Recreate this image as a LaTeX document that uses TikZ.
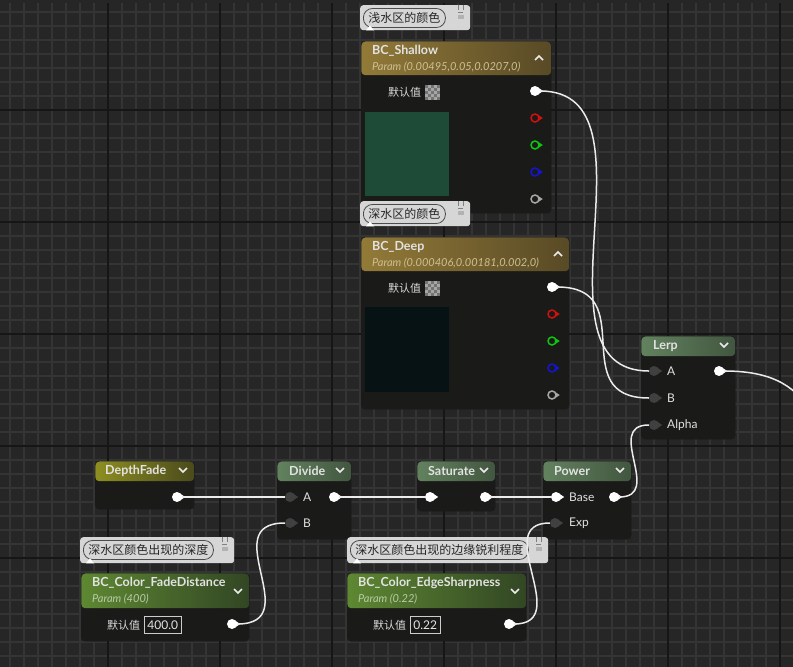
\documentclass[tikz,border=0pt]{standalone}
\usepackage{fontspec}
\setmainfont{Lato}
\newfontfamily\cjk{Noto Sans CJK SC}
\usepackage{tikz}
\usetikzlibrary{calc}
\definecolor{canvasbg}{RGB}{38,38,38}
\definecolor{gridminor}{RGB}{52,52,52}
\definecolor{gridmajor}{RGB}{22,22,22}
\definecolor{nodebody}{RGB}{26,27,25}
\definecolor{goldL}{RGB}{146,122,56}
\definecolor{goldR}{RGB}{88,74,38}
\definecolor{paramL}{RGB}{94,136,50}
\definecolor{paramR}{RGB}{50,70,36}
\definecolor{mathL}{RGB}{98,130,94}
\definecolor{mathR}{RGB}{66,86,64}
\definecolor{fadeL}{RGB}{142,142,34}
\definecolor{fadeR}{RGB}{74,74,28}
\definecolor{titlegray}{RGB}{226,226,226}
\definecolor{paramgold}{RGB}{206,192,146}
\definecolor{paramgreen}{RGB}{184,204,168}
\definecolor{pinoff}{RGB}{64,64,64}
\definecolor{bubble}{RGB}{214,214,214}
\definecolor{shallowgreen}{RGB}{30,74,56}
\definecolor{deepteal}{RGB}{6,18,20}
\definecolor{chanred}{RGB}{210,16,16}
\definecolor{changreen}{RGB}{16,196,16}
\definecolor{chanblue}{RGB}{20,20,214}
\definecolor{changray}{RGB}{168,168,168}
\tikzset{
  uenode/.style n args={3}{
    draw=black!90,
    fill=nodebody,
    rounded corners=4pt,
    inner sep=0pt,
    anchor=north west,
    path picture={\shade[left color=#2,right color=#3]
      (path picture bounding box.north west) rectangle
      ([yshift=-#1]path picture bounding box.north east);}
  },
  nodetitle/.style={anchor=west,inner sep=0pt,text=titlegray,font=\bfseries\fontsize{12.5pt}{14pt}\selectfont},
  paramtext/.style={anchor=west,inner sep=0pt,font=\itshape\fontsize{11pt}{12pt}\selectfont},
  pinlabel/.style={anchor=west,inner sep=0pt,text=white!88!black,font=\fontsize{12pt}{13pt}\selectfont},
  cjklabel/.style={anchor=west,inner sep=0pt,text=white!85!black,font=\cjk\fontsize{11pt}{13pt}\selectfont},
  valuebox/.style={anchor=west,draw=white!80!black,line width=0.8pt,text=white!90!black,
    inner xsep=3pt,minimum height=17pt,font=\fontsize{12pt}{13pt}\selectfont},
  outpin/.style={circle,fill=white,minimum size=10pt,inner sep=0pt},
  inpin/.style={circle,fill=pinoff,minimum size=10pt,inner sep=0pt},
  chanpin/.style={circle,draw=#1,line width=1.5pt,fill=nodebody,minimum size=8pt,inner sep=0pt},
  wire/.style={draw=white!92!black,line width=1.5pt},
  caret/.style={draw=white!92!black,line width=1.5pt},
  bubblebox/.style={fill=bubble,rounded corners=3pt,anchor=north west,inner sep=0pt,minimum height=25pt},
  pill/.style={anchor=west,draw=black!70,line width=0.8pt,rounded corners=9pt,text=black!85,
    inner xsep=5pt,inner ysep=1pt,minimum height=19pt,font=\cjk\fontsize{12pt}{14pt}\selectfont},
}

\begin{document}
\begin{tikzpicture}[x=1pt,y=-1pt]
  \useasboundingbox (0,0) rectangle (793,667);
  \clip (0,0) rectangle (793,667);

  % Canvas grid
  \fill[canvasbg] (0,0) rectangle (793,667);
  \foreach \x in {10,24,...,794} \draw[gridminor,line width=2pt] (\x,0) -- (\x,667);
  \foreach \y in {12,26,...,668} \draw[gridminor,line width=2pt] (0,\y) -- (793,\y);
  \foreach \x in {108,220,...,780} \draw[gridmajor,line width=2.5pt] (\x,0) -- (\x,667);
  \foreach \y in {110,222,...,670} \draw[gridmajor,line width=2.5pt] (0,\y) -- (793,\y);
  \fill[black!85] (0,0) rectangle (793,3);

  % Parameter nodes
  \node[uenode={34pt}{goldL}{goldR},minimum width=190pt,minimum height=172pt] (shallow) at (361,41) {};
  \node[nodetitle] (shallowT) at (372,51) {BC\_Shallow};
  \node[paramtext,text=paramgold] (shallowP) at (372,67) {Param (0.00495,0.05,0.0207,0)};
  \node[uenode={34pt}{goldL}{goldR},minimum width=208pt,minimum height=172pt] (deep) at (361,237) {};
  \node[nodetitle] (deepT) at (372,247) {BC\_Deep};
  \node[paramtext,text=paramgold] (deepP) at (372,263) {Param (0.000406,0.00181,0.002,0)};
  \node[uenode={35pt}{paramL}{paramR},minimum width=168pt,minimum height=68pt] (fade) at (81,573) {};
  \node[nodetitle] (fadeT) at (92,583) {BC\_Color\_FadeDistance};
  \node[paramtext,text=paramgreen] (fadeP) at (92,599) {Param (400)};
  \node[uenode={35pt}{paramL}{paramR},minimum width=179pt,minimum height=68pt] (edge) at (347,573) {};
  \node[nodetitle] (edgeT) at (358,583) {BC\_Color\_EdgeSharpness};
  \node[paramtext,text=paramgreen] (edgeP) at (358,599) {Param (0.22)};

  % Math nodes
  \node[uenode={20pt}{mathL}{mathR},minimum width=94pt,minimum height=103pt] (lerp) at (641,336) {};
  \node[nodetitle] (lerpT) at (653,346) {Lerp};
  \node[uenode={20pt}{fadeL}{fadeR},minimum width=99pt,minimum height=48pt] (depth) at (95,461) {};
  \node[nodetitle] (depthT) at (105,471) {DepthFade};
  \node[uenode={20pt}{mathL}{mathR},minimum width=74pt,minimum height=78pt] (divide) at (277,461) {};
  \node[nodetitle] (divideT) at (289,471) {Divide};
  \node[uenode={20pt}{mathL}{mathR},minimum width=78pt,minimum height=50pt] (sat) at (417,461) {};
  \node[nodetitle] (satT) at (428,471) {Saturate};
  \node[uenode={20pt}{mathL}{mathR},minimum width=88pt,minimum height=78pt] (power) at (543,461) {};
  \node[nodetitle] (powerT) at (554,471) {Power};

  % Comment bubbles
  \node[bubblebox,minimum width=110pt] (shallowC) at (360,5) {};
  \node[pill] (shallowCT) at (363,18) {浅水区的颜色};
  \node[bubblebox,minimum width=110pt] (deepC) at (360,201) {};
  \node[pill] (deepCT) at (363,214) {深水区的颜色};
  \node[bubblebox,minimum width=154pt,minimum height=26pt] (fadeC) at (80,537) {};
  \node[pill] (fadeCT) at (83,550) {深水区颜色出现的深度};
  \node[bubblebox,minimum width=201pt,minimum height=26pt] (edgeC) at (347,537) {};
  \node[pill] (edgeCT) at (350,550) {深水区颜色出现的边缘锐利程度};
  \foreach \c in {shallowC,deepC,fadeC,edgeC}{
    \draw[black!50,line width=0.9pt] ([xshift=-12pt,yshift=-5pt]\c.north east) -- ++(0,-5)
      ([xshift=-12pt,yshift=-7.5pt]\c.north east) -- ++(5,0)
      ([xshift=-7pt,yshift=-5pt]\c.north east) -- ++(0,-5);
    \fill[black!30] ([xshift=-12pt,yshift=-14pt]\c.north east) rectangle ++(6,-4);
    \fill[white] ([xshift=6pt]\c.south west) -- ++(8,0) -- ++(-4,-5) -- cycle;
  }

  % Collapse carets
  \foreach \x/\y in {539/58,558/254}
    \draw[caret] (\x-4,\y+2) -- (\x,\y-2) -- (\x+4,\y+2);
  \foreach \x/\y in {724/345,183/470,340/470,484/470,620/470,238/591,515/591}
    \draw[caret] (\x-4,\y-2) -- (\x,\y+2) -- (\x+4,\y-2);

  % Default values and swatches
  \node[cjklabel] (shallowD) at (388,92) {默认值};
  \node[cjklabel] (deepD) at (388,288) {默认值};
  \node[cjklabel] (fadeD) at (107,625) {默认值};
  \node[cjklabel] (edgeD) at (373,625) {默认值};
  \node[valuebox] (fadeV) at (144,625) {400.0};
  \node[valuebox] (edgeV) at (410,625) {0.22};
  \foreach \cy in {85,281}{
    \fill[black!35] (425,\cy) rectangle ++(15,15);
    \foreach \i/\j in {0/0,0/2,0/4,1/1,1/3,2/0,2/2,2/4,3/1,3/3,4/0,4/2,4/4}
      \fill[black!55] (425+3*\i,\cy+3*\j) rectangle ++(3,3);
  }
  \fill[shallowgreen] (365,112) rectangle (449,196);
  \fill[deepteal] (365,307) rectangle (449,392);

  % Pin labels
  \node[pinlabel] (lerpAL) at (667,371) {A};
  \node[pinlabel] (lerpBL) at (667,398) {B};
  \node[pinlabel] (lerpAlphaL) at (667,425) {Alpha};
  \node[pinlabel] (divideAL) at (303,497) {A};
  \node[pinlabel] (divideBL) at (303,523) {B};
  \node[pinlabel] (powerBaseL) at (569,497) {Base};
  \node[pinlabel] (powerExpL) at (569,523) {Exp};

  % Pins
  \node[outpin] (shallowOut) at (535,91) {};
  \node[outpin] (deepOut) at (552,287) {};
  \node[outpin] (lerpOut) at (719,371) {};
  \node[outpin] (depthOut) at (177,497) {};
  \node[outpin] (divideOut) at (334,497) {};
  \node[outpin] (satOut) at (485,497) {};
  \node[outpin] (powerOut) at (614,497) {};
  \node[outpin] (fadeOut) at (232,624) {};
  \node[outpin] (edgeOut) at (509,624) {};
  \node[outpin] (satIn) at (430,497) {};
  \node[outpin] (powerBase) at (556,497) {};
  \node[inpin] (lerpA) at (654,371) {};
  \node[inpin] (lerpB) at (654,398) {};
  \node[inpin] (lerpAlpha) at (654,425) {};
  \node[inpin] (divideA) at (290,497) {};
  \node[inpin] (divideB) at (290,523) {};
  \node[inpin] (powerExp) at (555,523) {};
  \node[chanpin=chanred] (shallowR) at (535,118) {};
  \node[chanpin=changreen] (shallowG) at (535,145) {};
  \node[chanpin=chanblue] (shallowB) at (535,172) {};
  \node[chanpin=changray] (shallowW) at (535,199) {};
  \node[chanpin=chanred] (deepR) at (552,314) {};
  \node[chanpin=changreen] (deepG) at (552,341) {};
  \node[chanpin=chanblue] (deepB) at (552,368) {};
  \node[chanpin=changray] (deepW) at (552,395) {};
  \foreach \p/\c in {shallowOut/white,deepOut/white,lerpOut/white,depthOut/white,divideOut/white,
      satOut/white,powerOut/white,fadeOut/white,edgeOut/white,satIn/white,powerBase/white,
      lerpA/pinoff,lerpB/pinoff,lerpAlpha/pinoff,divideA/pinoff,divideB/pinoff,powerExp/pinoff,
      shallowR/chanred,shallowG/changreen,shallowB/chanblue,shallowW/changray,
      deepR/chanred,deepG/changreen,deepB/chanblue,deepW/changray}
    \fill[\c] ([xshift=-1.5pt,yshift=3pt]\p.east) -- ([xshift=3pt]\p.east) -- ([xshift=-1.5pt,yshift=-3pt]\p.east) -- cycle;

  % Wires
  \coordinate (lerpEnd) at (900,450);
  \draw[wire] (shallowOut.east) .. controls +(125,0) and +(-125,0) .. (lerpA.west);
  \draw[wire] (deepOut.east) .. controls +(85,0) and +(-85,0) .. (lerpB.west);
  \draw[wire] (powerOut.east) .. controls +(45,0) and +(-45,0) .. (lerpAlpha.west);
  \draw[wire] (lerpOut.east) .. controls +(110,0) and +(-110,0) .. (lerpEnd);
  \draw[wire] (depthOut) -- (divideA);
  \draw[wire] (divideOut) -- (satIn);
  \draw[wire] (satOut) -- (powerBase);
  \draw[wire] (fadeOut.east) .. controls +(70,0) and +(-70,0) .. (divideB.west);
  \draw[wire] (edgeOut.east) .. controls +(60,0) and +(-60,0) .. (powerExp.west);
\end{tikzpicture}
\end{document}
